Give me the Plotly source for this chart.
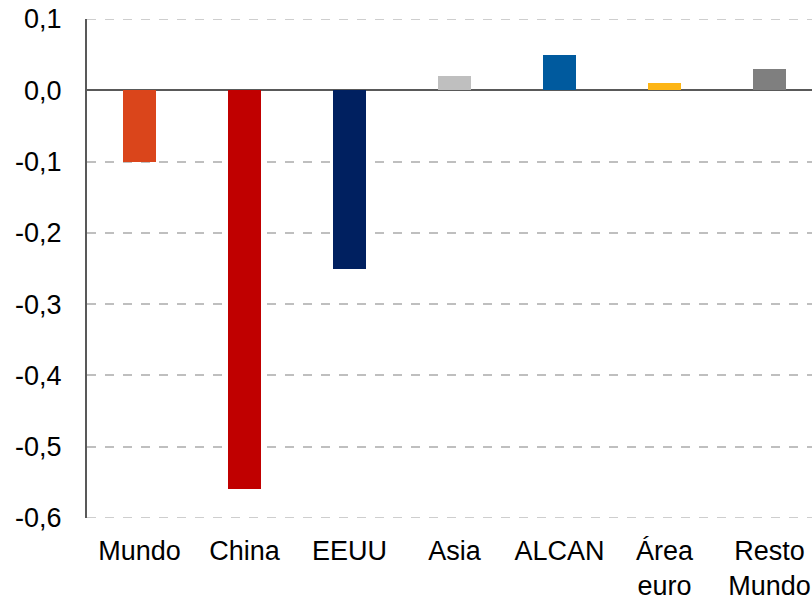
import plotly.graph_objects as go

# Categorías y variación (puntos porcentuales)
categorias = ["Mundo", "China", "EEUU", "Asia", "ALCAN", "Área<br>euro", "Resto<br>Mundo"]
valores = [-0.10, -0.56, -0.25, 0.02, 0.05, 0.01, 0.03]
colores = ["#DA451B", "#C00000", "#002060", "#BFBFBF", "#005A9E", "#FDB515", "#7F7F7F"]

tick_vals = [0.1, 0.0, -0.1, -0.2, -0.3, -0.4, -0.5, -0.6]
tick_text = ["0,1", "0,0", "-0,1", "-0,2", "-0,3", "-0,4", "-0,5", "-0,6"]

fig = go.Figure(
    go.Bar(
        x=list(range(len(categorias))),
        y=valores,
        marker=dict(color=colores, line=dict(width=0)),
        width=0.314,
    )
)

# líneas de cuadrícula en los extremos del eje (0,1 y -0,6)
for yv in (tick_vals[0], tick_vals[-1]):
    fig.add_shape(
        type="line", xref="paper", yref="y", x0=0, x1=1, y0=yv, y1=yv,
        line=dict(color="#BFBFBF", width=1.5, dash="dash"), layer="below",
    )

fig.update_layout(
    width=812,
    height=600,
    margin=dict(l=87, r=0, t=19, b=82),
    paper_bgcolor="white",
    plot_bgcolor="white",
    showlegend=False,
    font=dict(family="Liberation Sans, Arial, sans-serif", size=27, color="black"),
    bargap=0,
)

fig.update_xaxes(
    range=[-0.5, 6.405],
    tickvals=list(range(len(categorias))),
    ticktext=categorias,
    showgrid=False,
    zeroline=False,
    showline=False,
    ticks="",
    ticklabelstandoff=14,
    ticklabeloverflow="allow",
    automargin=False,
    tickfont=dict(size=27),
)

fig.update_yaxes(
    range=[-0.6, 0.1],
    tickvals=tick_vals,
    ticktext=tick_text,
    showgrid=True,
    gridcolor="#BFBFBF",
    gridwidth=1.5,
    griddash="dash",
    zeroline=True,
    zerolinecolor="#595959",
    zerolinewidth=2,
    showline=True,
    linecolor="#595959",
    linewidth=2,
    ticks="",
    ticklabelstandoff=18,
    automargin=False,
)

fig.write_html("out.html")
